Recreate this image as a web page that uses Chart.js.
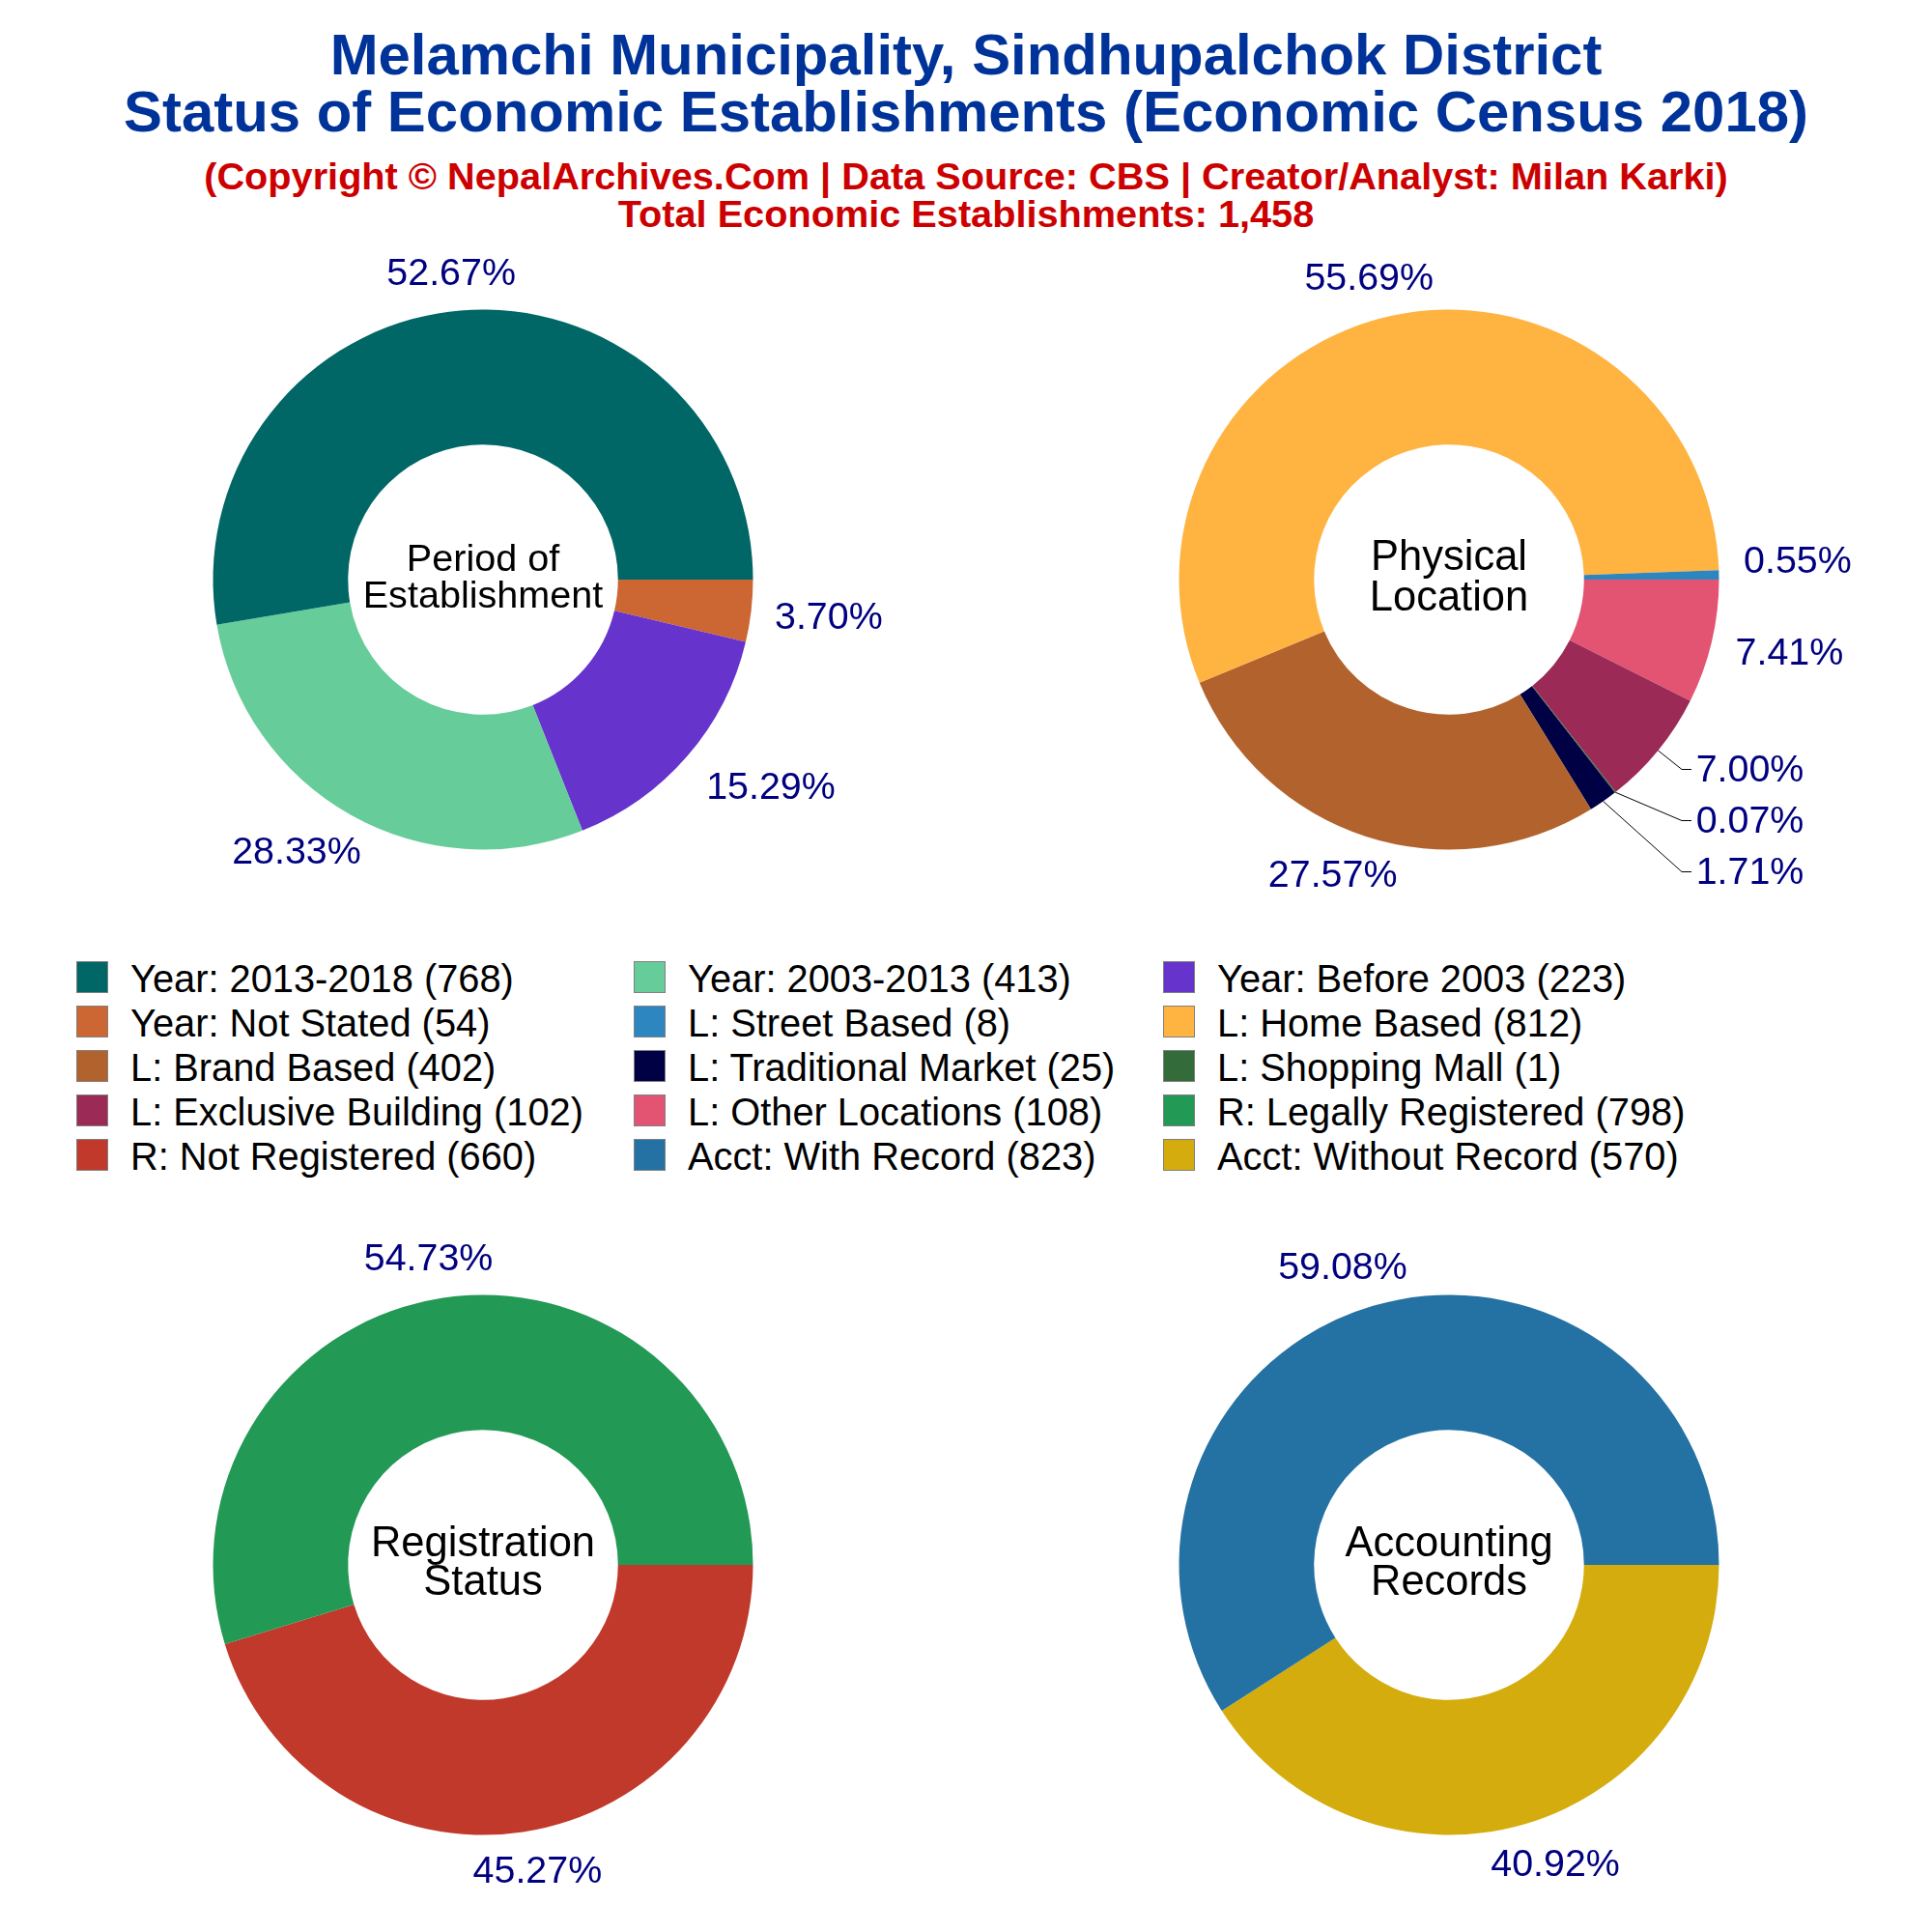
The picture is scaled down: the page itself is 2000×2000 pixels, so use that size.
<!DOCTYPE html>
<html>
<head>
<meta charset="utf-8">
<title>Melamchi Municipality</title>
<script src="https://cdn.jsdelivr.net/npm/chart.js@4"></script>
<style>
  html, body { margin: 0; padding: 0; background: #fff; }
  #page { position: relative; width: 2000px; height: 2000px; overflow: hidden; font-family: "Liberation Sans", Arial, sans-serif; }
  .head { position: absolute; left: 0; width: 2000px; text-align: center; font-weight: bold; white-space: nowrap; transform: translateY(-50%); }
  .title { color: #003399; font-size: 59.9px; }
  .sub { color: #cc0000; font-size: 39.7px; }
  canvas { position: absolute; }
  .swatch { position: absolute; width: 31px; height: 31px; border: 1px solid #808080; box-sizing: content-box; }
  .item { position: absolute; font-size: 39.8px; color: #000; white-space: nowrap; transform: translateY(-50%); }
</style>
</head>
<body>
<div id="page">
  <div class="head title" style="top:56px">Melamchi Municipality, Sindhupalchok District</div>
  <div class="head title" style="top:115px">Status of Economic Establishments (Economic Census 2018)</div>
  <div class="head sub" style="top:182px">(Copyright © NepalArchives.Com | Data Source: CBS | Creator/Analyst: Milan Karki)</div>
  <div class="head sub" style="top:221px">Total Economic Establishments: 1,458</div>
  <canvas id="period" width="1000" height="760" style="left:0;top:220px"></canvas>
  <canvas id="location" width="1000" height="760" style="left:1000px;top:220px"></canvas>
  <canvas id="registration" width="1000" height="760" style="left:0;top:1240px"></canvas>
  <canvas id="accounting" width="1000" height="760" style="left:1000px;top:1240px"></canvas>
</div>
<script>
// data, in the order the slices run (anticlockwise from 3 o'clock)
const periodNames = ["Year: 2013-2018", "Year: 2003-2013", "Year: Before 2003", "Year: Not Stated"];
const periodValues = [768, 413, 223, 54];
const periodColors = ["#006666", "#66cc99", "#6633cc", "#cc6633"];

const locationNames = ["L: Street Based", "L: Home Based", "L: Brand Based", "L: Traditional Market", "L: Shopping Mall", "L: Exclusive Building", "L: Other Locations"];
const locationValues = [8, 812, 402, 25, 1, 102, 108];
const locationColors = ["#2e86c1", "#ffb340", "#b2622d", "#000044", "#336b3a", "#9b2a56", "#e35473"];

const registrationNames = ["R: Legally Registered", "R: Not Registered"];
const registrationValues = [798, 660];
const registrationColors = ["#229954", "#c0392b"];

const accountingNames = ["Acct: With Record", "Acct: Without Record"];
const accountingValues = [823, 570];
const accountingColors = ["#2471a3", "#d4ac0d"];

// label nudges from the point 320px out along the slice middle
const periodNudges = [[-6, 3], [-36, 4], [56, 7], [40, 3]];
const locationNudges = [[41, -12], [-15, 2], [-22, 3], null, null, null, [41, 3]];
const registrationNudges = [[-9, 1], [9, 2]];
const accountingNudges = [[-20, 0], [20, 4]];

// the three small slices get a leader line: elbow position from the donut centre
const locationLeaders = { 3: [241, 302], 4: [241, 249], 5: [241, 196] };

// 圆环中间的文字 (centre text)
const centerTexts = {
  period: { lines: ["Period of", "Establishment"], ys: [-19.5, 18.5], size: 39.6 },
  location: { lines: ["Physical", "Location"], ys: [-22.5, 19.5], size: 43.5 },
  registration: { lines: ["Registration", "Status"], ys: [-21.5, 18.5], size: 43.5 },
  accounting: { lines: ["Accounting", "Records"], ys: [-21.5, 18.5], size: 43.5 }
};

const fontName = '"Liberation Sans", Arial, sans-serif';

const labelPlugin = {
  id: "labelPlugin",
  afterDraw(chart) {
    const ctx = chart.ctx;
    const opts = chart.config.options.donut;
    const arcs = chart.getDatasetMeta(0).data;
    const values = chart.data.datasets[0].data;
    const total = values.reduce((a, b) => a + b, 0);
    const n = arcs.length;

    ctx.save();
    ctx.textAlign = "center";
    ctx.textBaseline = "middle";

    // percent labels. Arcs are stored reversed, so i counts from the end
    arcs.forEach((arc, k) => {
      const i = n - 1 - k;
      const mid = (arc.startAngle + arc.endAngle) / 2;
      const cx = arc.x, cy = arc.y;
      const text = (values[k] / total * 100).toFixed(2) + "%";
      let tx, ty;
      const elbow = opts.leaders && opts.leaders[i];
      if (elbow) {
        const sx = cx + arc.outerRadius * Math.cos(mid);
        const sy = cy + arc.outerRadius * Math.sin(mid);
        ctx.strokeStyle = "#000";
        ctx.lineWidth = 1;
        ctx.beginPath();
        ctx.moveTo(sx, sy);
        ctx.lineTo(cx + elbow[0], cy + elbow[1] + 0.5);
        ctx.lineTo(cx + elbow[0] + 10, cy + elbow[1] + 0.5);
        ctx.stroke();
        tx = cx + elbow[0] + 70.5;
        ty = cy + elbow[1] + 2;
      } else {
        tx = cx + 320 * Math.cos(mid) + opts.nudges[i][0];
        ty = cy + 320 * Math.sin(mid) + opts.nudges[i][1];
      }
      ctx.fillStyle = "#000080";
      ctx.font = "39.4px " + fontName;
      ctx.fillText(text, tx, ty);
    });

    // centre text
    const c = centerTexts[opts.key];
    ctx.fillStyle = "#000";
    ctx.font = c.size + "px " + fontName;
    c.lines.forEach((line, i) => {
      ctx.fillText(line, arcs[0].x, arcs[0].y + c.ys[i]);
    });
    ctx.restore();
  }
};

// 画一个圆环
function drawDonut(key, values, colors, nudges, leaders) {
  new Chart(document.getElementById(key), {
    type: "doughnut",
    data: {
      labels: values.map((v, i) => i),
      datasets: [{
        data: values.slice().reverse(),
        backgroundColor: colors.slice().reverse(),
        borderWidth: 0
      }]
    },
    options: {
      responsive: false,
      animation: false,
      rotation: 90,
      radius: 279.5,
      cutout: "50%",
      layout: { padding: 0 },
      plugins: { legend: { display: false }, tooltip: { enabled: false } },
      donut: { key, nudges, leaders }
    },
    plugins: [labelPlugin]
  });
}

drawDonut("period", periodValues, periodColors, periodNudges);
drawDonut("location", locationValues, locationColors, locationNudges, locationLeaders);
drawDonut("registration", registrationValues, registrationColors, registrationNudges);
drawDonut("accounting", accountingValues, accountingColors, accountingNudges);

// 图例 (legend), three columns filled row by row
const legendNames = [...periodNames, ...locationNames, ...registrationNames, ...accountingNames];
const legendValues = [...periodValues, ...locationValues, ...registrationValues, ...accountingValues];
const legendColors = [...periodColors, ...locationColors, ...registrationColors, ...accountingColors];
const swatchLeft = [79, 656, 1204];
const textLeft = [135, 712, 1260];
const page = document.getElementById("page");

legendNames.forEach((name, i) => {
  const col = i % 3;
  const y = 995 + Math.floor(i / 3) * 46;
  const box = document.createElement("div");
  box.className = "swatch";
  box.style.cssText = `left:${swatchLeft[col]}px;top:${y}px;background:${legendColors[i]}`;
  page.appendChild(box);
  const label = document.createElement("div");
  label.className = "item";
  label.style.cssText = `left:${textLeft[col]}px;top:${y + 18}px`;
  label.textContent = `${name} (${legendValues[i]})`;
  page.appendChild(label);
});
</script>
</body>
</html>
